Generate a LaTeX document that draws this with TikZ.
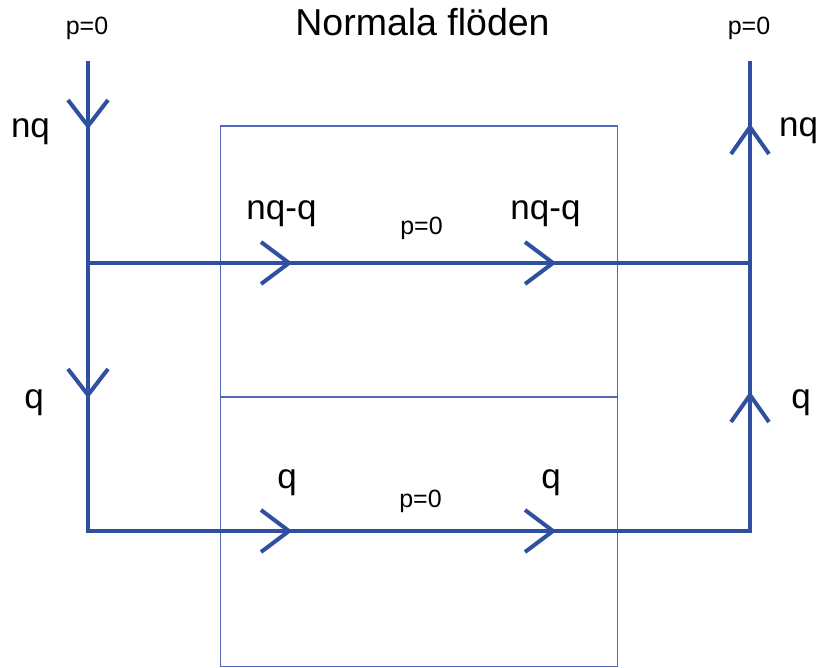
\documentclass[tikz,border=0pt]{standalone}
\usepackage{fontspec}
\setmainfont{Liberation Sans}
\begin{document}
\begin{tikzpicture}[x=1pt, y=-1pt,
    flow/.style = {draw=flowblue, line width=4pt},
    box/.style = {draw=boxblue, line width=1.2pt},
    big/.style = {font=\fontsize{35}{40}\selectfont, anchor=base},
    small/.style = {font=\fontsize{25}{30}\selectfont, anchor=base},
    chevR/.pic = {\draw[flow] (-28,-21) -- (0,0) -- (-28,21);},
    chevD/.pic = {\draw[flow] (-20,-26) -- (0,0) -- (20,-26);},
    chevU/.pic = {\draw[flow] (-19,27) -- (0,0) -- (19,27);}]
        \definecolor{flowblue}{RGB}{47,80,160}
        \definecolor{boxblue}{RGB}{80,105,185}
        \useasboundingbox (0,0) rectangle (821,668);
        % corners of the flow lines
        \coordinate (tl) at (88,61);
        \coordinate (ml) at (88,263);
        \coordinate (bl) at (88,531);
        \coordinate (tr) at (750,61);
        \coordinate (mr) at (750,263);
        \coordinate (br) at (750,531);
        %
        \draw[box] (220.5,126) rectangle (617.5,666.5);
        \draw[box] (220.5,397) -- (617.5,397);
        %
        \draw[flow, line join=miter] (tl) -- (bl) -- (br) -- (tr);
        \draw[flow] (ml) -- (mr);
        \pic at (88,126) {chevD};
        \pic at (88,395) {chevD};
        \pic at (750,127) {chevU};
        \pic at (750,395) {chevU};
        \pic at (289,263) {chevR};
        \pic at (553,263) {chevR};
        \pic at (289,531) {chevR};
        \pic at (553,531) {chevR};
        %
        \node[big, font=\fontsize{37.5}{42}\selectfont] (title) at (422.5,36) {Normala flöden};
        \node[small] (pl) at (87,35) {p=0};
        \node[small] (pr) at (749,35) {p=0};
        \node[small] (pm) at (421.5,235) {p=0};
        \node[small] (pb) at (420.5,507) {p=0};
        \node[big] (nql) at (30.5,138) {nq};
        \node[big] (nqr) at (798.5,137) {nq};
        \node[big] (ql) at (34,408) {q};
        \node[big] (qr) at (801,408) {q};
        \node[big] (nqq1) at (281.5,220) {nq-q};
        \node[big] (nqq2) at (545.5,220) {nq-q};
        \node[big] (qb1) at (287,488) {q};
        \node[big] (qb2) at (551,488) {q};
      \end{tikzpicture}
\end{document}
